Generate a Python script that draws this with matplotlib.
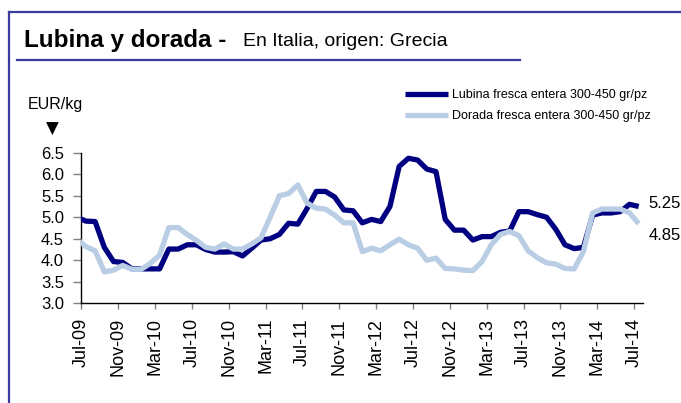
import matplotlib
matplotlib.use("Agg")
import matplotlib.pyplot as plt
import matplotlib.transforms as mtransforms
from matplotlib.lines import Line2D
import numpy as np

plt.rcParams['font.family'] = ['Liberation Sans', 'DejaVu Sans']

months = ['Jun-09', 'Jul-09', 'Aug-09', 'Sep-09', 'Oct-09', 'Nov-09', 'Dec-09',
          'Jan-10', 'Feb-10', 'Mar-10', 'Apr-10', 'May-10', 'Jun-10', 'Jul-10', 'Aug-10', 'Sep-10', 'Oct-10', 'Nov-10', 'Dec-10',
          'Jan-11', 'Feb-11', 'Mar-11', 'Apr-11', 'May-11', 'Jun-11', 'Jul-11', 'Aug-11', 'Sep-11', 'Oct-11', 'Nov-11', 'Dec-11',
          'Jan-12', 'Feb-12', 'Mar-12', 'Apr-12', 'May-12', 'Jun-12', 'Jul-12', 'Aug-12', 'Sep-12', 'Oct-12', 'Nov-12', 'Dec-12',
          'Jan-13', 'Feb-13', 'Mar-13', 'Apr-13', 'May-13', 'Jun-13', 'Jul-13', 'Aug-13', 'Sep-13', 'Oct-13', 'Nov-13', 'Dec-13',
          'Jan-14', 'Feb-14', 'Mar-14', 'Apr-14', 'May-14', 'Jun-14', 'Jul-14']

lubina = [5.00, 4.91, 4.90, 4.30, 3.97, 3.95, 3.80,
          3.80, 3.80, 3.80, 4.26, 4.26, 4.36, 4.36, 4.25, 4.19, 4.19, 4.20, 4.10,
          4.28, 4.47, 4.50, 4.60, 4.86, 4.84, 5.20, 5.60, 5.60, 5.47, 5.17, 5.15,
          4.87, 4.95, 4.90, 5.25, 6.18, 6.37, 6.33, 6.12, 6.06, 4.95, 4.70, 4.70,
          4.47, 4.55, 4.55, 4.65, 4.68, 5.13, 5.13, 5.06, 5.00, 4.72, 4.36, 4.27,
          4.30, 5.05, 5.10, 5.10, 5.13, 5.30, 5.25]

dorada = [4.50, 4.32, 4.22, 3.73, 3.77, 3.88, 3.79,
          3.79, 3.93, 4.12, 4.76, 4.76, 4.60, 4.46, 4.30, 4.26, 4.38, 4.26, 4.26,
          4.38, 4.52, 5.00, 5.50, 5.55, 5.75, 5.33, 5.21, 5.19, 5.05, 4.87, 4.87,
          4.20, 4.28, 4.22, 4.36, 4.49, 4.36, 4.28, 4.00, 4.05, 3.81, 3.80, 3.77,
          3.76, 3.97, 4.36, 4.60, 4.67, 4.57, 4.22, 4.06, 3.94, 3.91, 3.81, 3.80,
          4.20, 5.10, 5.19, 5.19, 5.19, 5.10, 4.85]

tick_labels = ['Jul-09', 'Nov-09', 'Mar-10', 'Jul-10', 'Nov-10', 'Mar-11', 'Jul-11', 'Nov-11',
               'Mar-12', 'Jul-12', 'Nov-12', 'Mar-13', 'Jul-13', 'Nov-13', 'Mar-14', 'Jul-14']
y_ticks = [3.0, 3.5, 4.0, 4.5, 5.0, 5.5, 6.0, 6.5]

series_names = ['Lubina fresca entera 300-450 gr/pz', 'Dorada fresca entera 300-450 gr/pz']
title_main = 'Lubina y dorada -'
title_sub = 'En Italia, origen: Grecia'
unit = 'EUR/kg'

DARK = '#000080'
LIGHT = '#b9cde5'
FRAME = '#3c3ca0'

W, H = 681, 403
fig = plt.figure(figsize=(W / 100, H / 100), dpi=100)
fig.patch.set_facecolor('white')

def fx(px):
    return px / W

def fy(py):
    return 1 - py / H

ax = fig.add_axes([fx(81.3), fy(303.3), fx(643.3) - fx(81.3), fy(152.7) - fy(303.3)])

# x positions: mid-month, month starts at integer positions (Jul-09 start = 0)
x = np.arange(len(months)) - 0.5

ax.plot(x, lubina, color=DARK, lw=3.8, solid_joinstyle='round', solid_capstyle='butt',
        label=series_names[0], zorder=3)
ax.plot(x, dorada, color=LIGHT, lw=3.8, solid_joinstyle='round', solid_capstyle='butt',
        label=series_names[1], zorder=4)

ax.set_xlim(0, 61)
ax.set_ylim(3.0, 6.5)

tick_pos = [months.index(t) - 1 for t in tick_labels]
ax.set_xticks(tick_pos)
ax.set_xticklabels(tick_labels, rotation=90, fontsize=13)
ax.set_yticks(y_ticks)
ax.set_yticklabels([f'{v:.1f}' for v in y_ticks], fontsize=12)

offset = mtransforms.ScaledTranslation(3 / 100, 0, fig.dpi_scale_trans)
for lbl in ax.get_xticklabels():
    lbl.set_transform(lbl.get_transform() + offset)

ax.tick_params(axis='y', direction='out', length=6, width=1, color='#808080', pad=6.5)
ax.tick_params(axis='x', direction='out', length=4.5, width=1, color='#808080', pad=6)

for s in ['top', 'right']:
    ax.spines[s].set_visible(False)
for s in ['left', 'bottom']:
    ax.spines[s].set_color('black')
    ax.spines[s].set_linewidth(1)

# end-value labels
ax.annotate(f'{lubina[-1]:.2f}', xy=(x[-1], lubina[-1]), xytext=(9.5, 3), textcoords='offset pixels',
            ha='left', va='center', fontsize=12, annotation_clip=False)
ax.annotate(f'{dorada[-1]:.2f}', xy=(x[-1], dorada[-1]), xytext=(9.5, -12), textcoords='offset pixels',
            ha='left', va='center', fontsize=12, annotation_clip=False)

# legend
fig.legend(loc='upper left', bbox_to_anchor=(fx(405), fy(89)), frameon=False, fontsize=9,
           handlelength=3.4, handletextpad=0.4, labelspacing=0.75, borderpad=0, borderaxespad=0)

# frame and titles
fig.add_artist(Line2D([fx(9), fx(9)], [fy(12), fy(403)], color=FRAME, lw=1.6))
fig.add_artist(Line2D([fx(9), fx(681)], [fy(12), fy(12)], color=FRAME, lw=1.6))
fig.add_artist(Line2D([fx(17), fx(520)], [fy(60), fy(60)], color=FRAME, lw=1.6))

fig.text(fx(24), fy(46.5), title_main, fontsize=17.5, fontweight='bold', ha='left', va='baseline')
fig.text(fx(243), fy(46.5), title_sub, fontsize=14, ha='left', va='baseline')
fig.text(fx(28), fy(105), unit, fontsize=11.5, ha='left', va='center')
fig.text(fx(52.5), fy(129), '\u25BC', fontsize=12, ha='center', va='center', family='DejaVu Sans')

fig.savefig('out.png', dpi=100, facecolor='white')
